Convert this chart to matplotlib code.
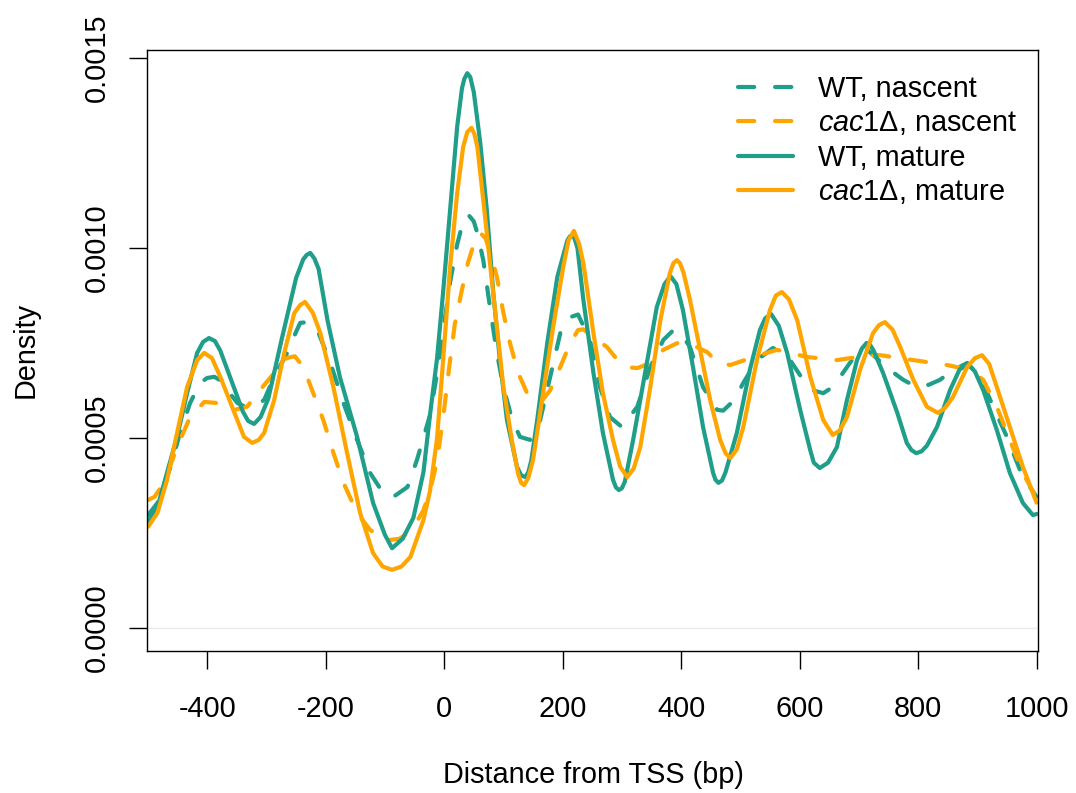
import numpy as np
import matplotlib
matplotlib.use("Agg")
import matplotlib.pyplot as plt

plt.rcParams['font.family'] = ['Liberation Sans', 'DejaVu Sans']
plt.rcParams['mathtext.fontset'] = 'custom'
plt.rcParams['mathtext.rm'] = 'Liberation Sans'
plt.rcParams['mathtext.it'] = 'Liberation Sans:italic'

# ---- data (density in units of 1e-4) ----
wt_mature_x = [-500, -484, -468, -451, -434, -417, -407, -397, -387, -378, -359, -340, -331, -321, -310, -297,
               -274, -250, -238, -232, -226, -219, -212, -197, -176, -147, -120, -100, -88, -70, -52, -35, -24,
               -12, -2, 10, 22, 30, 34, 39, 44, 50, 61, 72, 83, 94, 106, 123, 130, 137, 142, 147, 157, 174,
               191, 208, 212, 216, 220, 225, 235, 252, 268, 285, 290, 295, 300, 305, 319, 343, 359, 372, 382,
               392, 403, 420, 437, 454, 458, 463, 469, 475, 494, 516, 533, 542, 552, 565, 579, 601, 618, 624,
               634, 648, 663, 680, 697, 705, 713, 719, 725, 741, 765, 781, 789, 797, 806, 815, 832, 854, 870,
               883, 896, 910, 933, 955, 977, 994, 1000]
wt_mature_y = [2.79, 3.18, 4.08, 5.03, 6.18, 7.24, 7.53, 7.63, 7.55, 7.30, 6.50, 5.70, 5.45, 5.37, 5.55, 6.03,
               7.62, 9.21, 9.70, 9.82, 9.87, 9.72, 9.45, 8.10, 6.60, 5.03, 3.29, 2.45, 2.10, 2.35, 2.90, 4.10, 5.60,
               7.10, 8.80, 11.0, 13.2, 14.2, 14.45, 14.6, 14.5, 14.1, 12.76, 11.0, 8.80, 7.05, 5.47, 4.24, 4.02, 3.97, 4.10, 4.40, 5.47, 7.50,
               9.24, 10.2, 10.3, 10.34, 10.25, 10.0, 8.63, 6.71, 5.13, 3.90, 3.70, 3.63, 3.68, 3.85, 4.95, 7.05, 8.45, 9.05, 9.26,
               9.05, 8.37, 6.87, 5.29, 4.08, 3.90, 3.82, 3.88, 4.10, 5.13, 6.79, 7.84, 8.15, 8.26, 7.95, 7.24, 5.74, 4.68, 4.35,
               4.21, 4.35, 4.76, 6.00, 7.05, 7.35, 7.50, 7.45, 7.30, 6.71, 5.66, 4.87, 4.68, 4.60, 4.65, 4.80, 5.29, 6.26, 6.80,
               6.97, 6.75, 6.26, 5.21, 4.08, 3.29, 2.97, 3.00]

cac_mature_x = [-500, -484, -468, -451, -434, -417, -405, -392, -378, -354, -338, -324, -313, -304, -287, -270,
                -253, -243, -235, -222, -209, -187, -164, -142, -120, -104, -88, -72, -57, -35, -24, -12, -2,
                10, 22, 32, 39, 46, 51, 56, 66, 78, 89, 100, 115, 125, 130, 135, 142, 150, 167, 184, 201, 210,
                219, 228, 235, 252, 268, 285, 297, 309, 320, 331, 348, 365, 381, 387, 393, 398, 404, 415, 432,
                449, 466, 475, 483, 494, 505, 528, 550, 560, 570, 582, 596, 618, 640, 656, 668, 680, 702, 724,
                734, 744, 757, 770, 792, 815, 834, 846, 859, 883, 896, 908, 920, 933, 955, 977, 1000]
cac_mature_y = [2.66, 3.03, 3.89, 5.13, 6.34, 7.05, 7.24, 7.10, 6.61, 5.66, 5.03, 4.87, 4.95, 5.13, 6.00, 7.24,
                8.29, 8.50, 8.58, 8.30, 7.76, 6.34, 4.61, 3.03, 1.97, 1.62, 1.53, 1.62, 1.87, 2.84, 3.60, 5.00, 7.00,
                9.50, 11.45, 12.66, 13.05, 13.16, 13.0, 12.66, 11.26, 9.50, 7.92, 6.34, 4.87, 4.05, 3.82, 3.76, 3.95, 4.42, 6.18, 7.92, 9.50, 10.2,
                10.45, 10.1, 9.60, 7.76, 6.18, 4.95, 4.25, 3.97, 4.20, 4.76, 6.34, 8.10, 9.34, 9.60, 9.68, 9.60, 9.35, 8.63, 7.32,
                6.00, 4.95, 4.60, 4.47, 4.70, 5.29, 7.05, 8.37, 8.75, 8.84, 8.65, 8.10, 6.61, 5.47, 5.08, 5.20, 5.55, 6.79, 7.76,
                7.97, 8.05, 7.85, 7.39, 6.53, 5.82, 5.66, 5.80, 6.08, 6.87, 7.10, 7.18, 6.95, 6.34, 5.29, 4.24, 3.30]

wt_nascent_x = [-500, -484, -462, -446, -429, -412, -400, -388, -376, -366, -349, -333, -318, -304, -287, -265,
                -251, -243, -230, -214, -192, -170, -147, -125, -103, -86, -62, -46, -24, -12, -2, 10, 22,
                32, 41, 50, 56, 66, 78, 89, 100, 115, 128, 145, 162, 179, 196, 213, 226, 246, 263, 280, 300,
                326, 348, 370, 387, 400, 415, 437, 461, 471, 490, 505, 528, 555, 584, 606, 623, 640, 657,
                673, 697, 712, 730, 748, 775, 798, 818, 837, 859, 883, 905, 927, 950, 972, 989, 1000]
wt_nascent_y = [2.97, 3.29, 4.24, 5.13, 5.92, 6.45, 6.58, 6.61, 6.50, 6.26, 5.92, 5.80, 5.85, 6.00, 6.61, 7.24,
                7.76, 8.03, 8.05, 7.84, 6.97, 5.92, 4.95, 4.08, 3.55, 3.45, 3.71, 4.42, 5.60, 6.70, 7.80, 9.10, 10.1,
                10.7, 10.87, 10.7, 10.39, 9.68, 8.37, 7.24, 6.34, 5.47, 5.03, 4.95, 5.47, 6.61, 7.76, 8.18, 8.25, 7.58, 6.34, 5.55, 5.29,
                5.82, 6.87, 7.58, 7.84, 7.75, 7.39, 6.34, 5.74, 5.72, 6.00, 6.45, 7.05, 7.37, 7.05, 6.53, 6.25, 6.18, 6.35,
                6.71, 7.24, 7.35, 7.10, 6.84, 6.53, 6.34, 6.40, 6.53, 6.79, 6.97, 6.61, 5.82, 5.03, 4.16, 3.71, 3.45]

cac_nascent_x = [-500, -489, -473, -451, -429, -405, -383, -354, -333, -311, -287, -265, -252, -238, -221, -204,
                 -187, -170, -147, -125, -105, -91, -75, -62, -48, -35, -24, -12, -2, 8, 18, 30, 40, 50, 61,
                 70, 78, 89, 100, 111, 125, 140, 152, 162, 179, 196, 213, 226, 235, 252, 275, 297, 311, 326,
                 348, 370, 398, 427, 444, 461, 483, 522, 562, 613, 663, 719, 736, 792, 849, 888, 910, 933,
                 955, 977, 1000]
cac_nascent_y = [3.37, 3.45, 3.82, 4.76, 5.55, 5.95, 5.92, 5.74, 5.82, 6.26, 6.71, 7.11, 7.15, 6.87, 6.18, 5.47,
                 4.61, 3.82, 3.03, 2.58, 2.38, 2.32, 2.35, 2.50, 2.75, 3.10, 3.60, 4.40, 5.50, 6.80, 8.00, 8.90, 9.60, 10.1, 10.4,
                 10.25, 9.87, 9.24, 8.29, 7.50, 6.71, 6.18, 6.00, 5.92, 6.26, 6.87, 7.50, 7.84, 7.86, 7.66, 7.39, 6.97, 6.86, 6.84,
                 6.97, 7.32, 7.53, 7.39, 7.26, 7.00, 6.92, 7.13, 7.32, 7.13, 7.05, 7.18, 7.18, 7.05, 6.92, 6.79, 6.53, 5.82,
                 4.95, 4.08, 3.42]

UNIT = 1e-4
labels = ["WT, nascent", r"$\mathit{cac}$1Δ, nascent", "WT, mature", r"$\mathit{cac}$1Δ, mature"]
x_ticks = [-400, -200, 0, 200, 400, 600, 800, 1000]
y_ticks = [0.0, 0.0005, 0.0010, 0.0015]
y_ticklabels = ["0.0000", "0.0005", "0.0010", "0.0015"]

TEAL = "#1F9E89"
ORANGE = "#FFA500"
FS = 20.8
LW = 3.0
DASH = (0, (3.9, 5.0))

fig = plt.figure(figsize=(10.76, 7.93), dpi=100)
W, H = 1076, 793
ax = fig.add_axes([147 / W, 1 - 651 / H, (1038 - 147) / W, (651 - 50) / H])

ax.axhline(0, color="#ebebeb", lw=1.0, zorder=0.5)

series = [
    (wt_nascent_x, wt_nascent_y, TEAL, DASH),
    (cac_nascent_x, cac_nascent_y, ORANGE, DASH),
    (wt_mature_x, wt_mature_y, TEAL, "-"),
    (cac_mature_x, cac_mature_y, ORANGE, "-"),
]
handles = []
for (xs, ys, col, ls), lab in zip(series, labels):
    ln, = ax.plot(xs, np.array(ys) * UNIT, color=col, lw=LW, linestyle=ls,
                  dash_capstyle="round", solid_capstyle="round", solid_joinstyle="round",
                  dash_joinstyle="round", label=lab)
    handles.append(ln)

ax.set_xlim(-501.7, 1002.5)
ax.set_ylim(-6.05e-5, 1.521e-3)
ax.set_xticks(x_ticks)
ax.set_xticklabels([str(v) for v in x_ticks])
ax.set_yticks(y_ticks)
ax.set_yticklabels(y_ticklabels, rotation=90, va="center")
ax.tick_params(axis="both", length=13, width=1.0, labelsize=FS, color="black")
ax.tick_params(axis="x", pad=18.5)
ax.tick_params(axis="y", pad=13)
for s in ax.spines.values():
    s.set_linewidth(1.0)
    s.set_color("black")

fig.text(593 / W, 1 - 775 / H, "Distance from TSS (bp)", ha="center", va="center", fontsize=FS)
fig.text(26 / W, 1 - 350 / H, "Density", ha="center", va="center", rotation=90, fontsize=FS)

leg = ax.legend(handles=handles, labels=labels, loc="upper left",
                bbox_to_anchor=(738 / W, 1 - 75 / H), bbox_transform=fig.transFigure,
                frameon=False, borderpad=0, borderaxespad=0, handlelength=1.9,
                handletextpad=0.87, labelspacing=0.22, fontsize=FS)

fig.savefig("out.png", dpi=100)
